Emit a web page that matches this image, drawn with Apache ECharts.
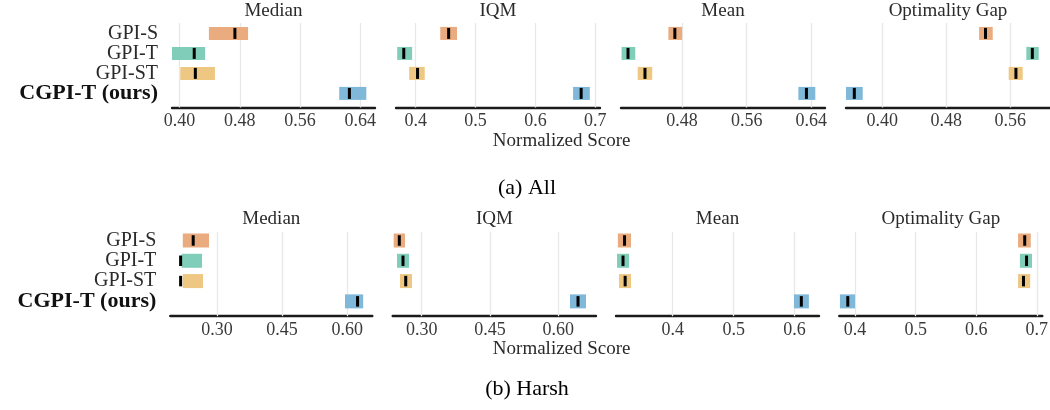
<!DOCTYPE html>
<html>
<head>
<meta charset="utf-8">
<script src="https://cdn.jsdelivr.net/npm/echarts@6/dist/echarts.min.js"></script>
<style>
html,body{margin:0;padding:0;background:#fff;}
#chart{width:1050px;height:410px;}
</style>
</head>
<body>
<div id="chart"></div>
<script>
// ---------- data ----------
const methods = ['GPI-S', 'GPI-T', 'GPI-ST', 'CGPI-T (ours)'];
const metrics = ['Median', 'IQM', 'Mean', 'Optimality Gap'];
const rowCaptions = ['(a) All', '(b) Harsh'];
const xAxisName = 'Normalized Score';

// each row: [CI low, CI high, point estimate] for GPI-S, GPI-T, GPI-ST, CGPI-T
const allMedian = [[0.439, 0.491, 0.4735], [0.390, 0.434, 0.4195], [0.401, 0.447, 0.421], [0.612, 0.648, 0.6255]];
const allIQM    = [[0.441, 0.469, 0.455], [0.369, 0.394, 0.380], [0.389, 0.415, 0.403], [0.663, 0.691, 0.6765]];
const allMean   = [[0.463, 0.480, 0.471], [0.405, 0.422, 0.413], [0.425, 0.443, 0.434], [0.624, 0.645, 0.634]];
const allGap    = [[0.521, 0.538, 0.529], [0.580, 0.5955, 0.5875], [0.558, 0.5755, 0.567], [0.3546, 0.3755, 0.365]];

const harshMedian = [[0.221, 0.2815, 0.245], [0.2185, 0.2654, 0.216], [0.2208, 0.2677, 0.216], [0.595, 0.637, 0.624]];
const harshIQM    = [[0.2385, 0.2633, 0.2508], [0.2458, 0.2721, 0.2589], [0.2523, 0.2787, 0.2649], [0.6257, 0.6609, 0.6433]];
const harshMean   = [[0.310, 0.3316, 0.321], [0.3087, 0.3284, 0.3185], [0.312, 0.3316, 0.322], [0.599, 0.6234, 0.611]];
const harshGap    = [[0.669, 0.690, 0.680], [0.672, 0.692, 0.683], [0.669, 0.689, 0.678], [0.375, 0.400, 0.388]];

// tick labels
const allMedianTicks = [0.40, 0.48, 0.56, 0.64];
const allIQMTicks    = [0.4, 0.5, 0.6, 0.7];
const allMeanTicks   = [0.48, 0.56, 0.64];
const allGapTicks    = [0.40, 0.48, 0.56];
const harshMedianTicks = [0.30, 0.45, 0.60];
const harshIQMTicks    = [0.30, 0.45, 0.60];
const harshMeanTicks   = [0.4, 0.5, 0.6];
const harshGapTicks    = [0.4, 0.5, 0.6, 0.7];

// ---------- styling / layout ----------
const colors = ['#EAAB7E', '#80CEB9', '#EEC782', '#7FB8D8'];
const FONT = '"Liberation Serif", "Times New Roman", serif';

const rows = [
  { top: 23, height: 84.5, ymin: -0.52, ymax: 3.705, barH: 13, tickH: 11,
    titleY: 11.5, nameY: 142, captionY: 188,
    cols: [[172, 203], [396, 204], [621, 204], [846, 204]] },
  { top: 231.7, height: 84.5, ymin: -0.433, ymax: 3.73, barH: 14, tickH: 10.5,
    titleY: 219.7, nameY: 350, captionY: 389,
    cols: [[170.3, 202], [392.7, 203.3], [616, 203], [839.3, 203]] }
];

const panels = [
  { row: 0, col: 0, data: allMedian, ticks: allMedianTicks, dec: 2, min: 0.390, max: 0.6595 },
  { row: 0, col: 1, data: allIQM, ticks: allIQMTicks, dec: 1, min: 0.367, max: 0.708 },
  { row: 0, col: 2, data: allMean, ticks: allMeanTicks, dec: 2, min: 0.4043, max: 0.657 },
  { row: 0, col: 3, data: allGap, ticks: allGapTicks, dec: 2, min: 0.3546, max: 0.6096 },
  { row: 1, col: 0, data: harshMedian, ticks: harshMedianTicks, dec: 2, min: 0.1922, max: 0.658 },
  { row: 1, col: 1, data: harshIQM, ticks: harshIQMTicks, dec: 2, min: 0.2363, max: 0.6828 },
  { row: 1, col: 2, data: harshMean, ticks: harshMeanTicks, dec: 1, min: 0.307, max: 0.640 },
  { row: 1, col: 3, data: harshGap, ticks: harshGapTicks, dec: 1, min: 0.374, max: 0.709 }
];

const grid = [], xAxis = [], yAxis = [], extraY = [], series = [], title = [];

function yAxisFor(gridIndex, r, values, labelStyle, show) {
  return {
    type: 'value', gridIndex: gridIndex, position: 'left', offset: 0,
    min: r.ymin, max: r.ymax, inverse: true,
    axisLine: { show: false }, axisTick: { show: false }, splitLine: { show: false },
    axisLabel: Object.assign({
      show: show,
      customValues: values,
      showMinLabel: true, showMaxLabel: true, hideOverlap: false,
      margin: 14,
      formatter: v => methods[Math.round(v)]
    }, labelStyle)
  };
}

panels.forEach((p, i) => {
  const r = rows[p.row];
  const [left, width] = r.cols[p.col];
  grid.push({ left: left, top: r.top, width: width, height: r.height, containLabel: false, outerBoundsMode: 'none' });
  xAxis.push({
    type: 'value', gridIndex: i, min: p.min, max: p.max,
    axisLine: { show: true, onZero: false, lineStyle: { color: '#1a1a1a', width: 2.4 } },
    axisTick: { show: false },
    splitLine: { show: false },
    axisLabel: {
      customValues: p.ticks,
      formatter: v => v.toFixed(p.dec),
      fontFamily: FONT, fontSize: 18, color: '#3a3a3a', margin: 5,
      showMinLabel: true, showMaxLabel: true, hideOverlap: false
    }
  });
  // regular method labels
  yAxis.push(yAxisFor(i, r, [0, 1, 2],
    { fontFamily: FONT, fontSize: 20, color: '#2a2a2a' }, p.col === 0));
  // bold label for our method, on its own axis in the first column
  if (p.col === 0) {
    extraY.push(yAxisFor(i, r, [3],
      { fontFamily: FONT, fontSize: 22, fontWeight: 'bold', color: '#111' }, true));
  }
  // gridlines
  series.push({
    type: 'scatter', xAxisIndex: i, yAxisIndex: i, data: [], z: 1, silent: true,
    markLine: {
      silent: true, symbol: ['none', 'none'], animation: false, z: 1,
      label: { show: false },
      lineStyle: { color: '#e8e8e8', width: 1.3, type: 'solid' },
      data: p.ticks.map(t => ({ xAxis: t }))
    }
  });
  // interval bars + point estimate
  series.push({
    type: 'custom', xAxisIndex: i, yAxisIndex: i, z: 3, animation: false, silent: true,
    encode: { x: [0, 1, 2], y: 3 },
    data: p.data.map((d, k) => [d[0], d[1], d[2], k]),
    renderItem: (params, api) => {
      const k = api.value(3);
      const lo = api.coord([api.value(0), k]);
      const hi = api.coord([api.value(1), k]);
      const pt = api.coord([api.value(2), k]);
      return {
        type: 'group',
        children: [
          { type: 'rect', shape: { x: lo[0], y: lo[1] - r.barH / 2, width: hi[0] - lo[0], height: r.barH },
            style: { fill: colors[k] } },
          { type: 'rect', shape: { x: pt[0] - 1.5, y: pt[1] - r.tickH / 2, width: 3, height: r.tickH },
            style: { fill: '#000' } }
        ]
      };
    }
  });
  title.push({
    text: metrics[p.col], left: left + width / 2, top: r.titleY - 10, textAlign: 'center', padding: 0,
    textStyle: { fontFamily: FONT, fontSize: 19, fontWeight: 'normal', color: '#2a2a2a' }
  });
});

rows.forEach((r, ri) => {
  title.push({
    text: xAxisName, left: 561.7, top: r.nameY - 10, textAlign: 'center', padding: 0,
    textStyle: { fontFamily: FONT, fontSize: 19, fontWeight: 'normal', color: '#2a2a2a' }
  });
  title.push({
    text: rowCaptions[ri], left: 527, top: r.captionY - 10.5, textAlign: 'center', padding: 0,
    textStyle: { fontFamily: FONT, fontSize: 22, fontWeight: 'normal', color: '#000' }
  });
});

const chart = echarts.init(document.getElementById('chart'), null, { renderer: 'canvas' });
chart.setOption({
  animation: false,
  backgroundColor: '#fff',
  title, grid, xAxis, yAxis: yAxis.concat(extraY), series
});
</script>
</body>
</html>
